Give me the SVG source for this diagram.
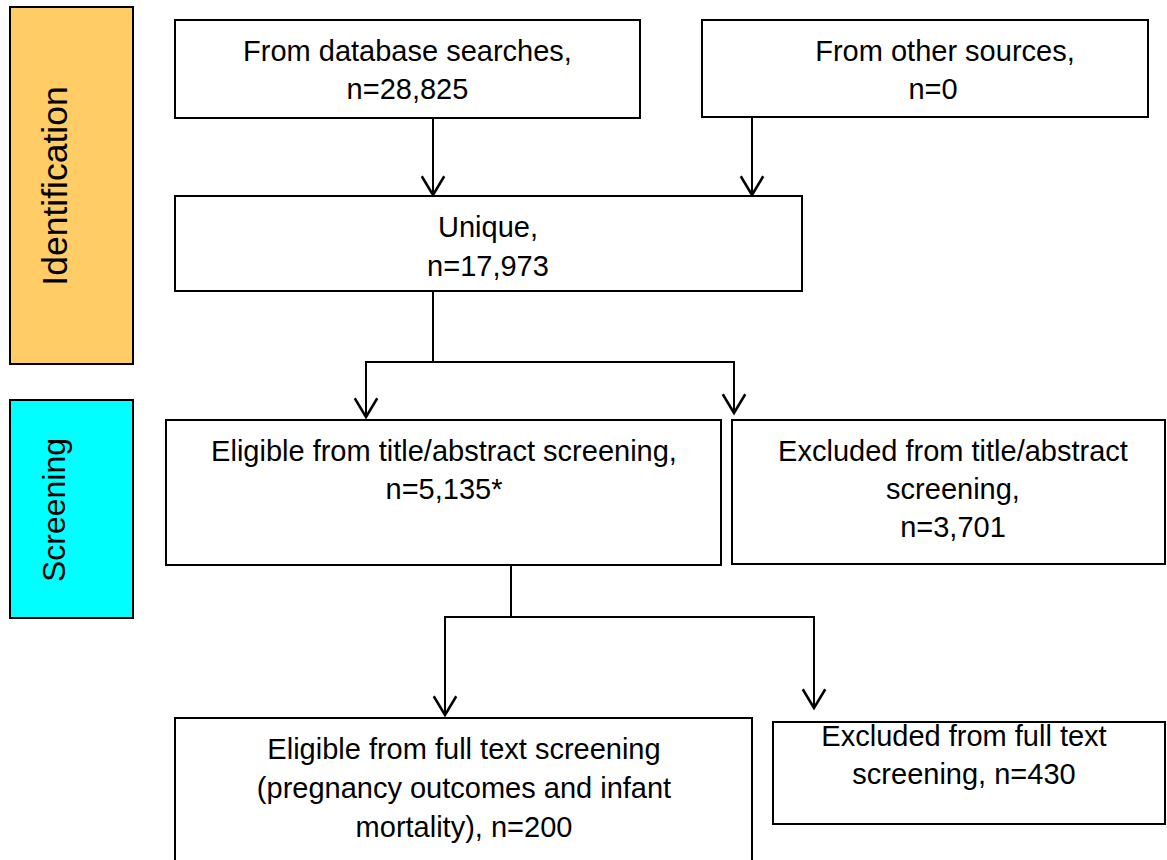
<svg xmlns="http://www.w3.org/2000/svg" width="1167" height="860" viewBox="0 0 1167 860">
<style>
.box{fill:#fff;stroke:#000;stroke-width:2}
.t{font-family:"Liberation Sans",Arial,sans-serif;font-size:29px;fill:#000;text-anchor:middle}
.side{font-family:"Liberation Sans",Arial,sans-serif;fill:#000;text-anchor:middle}
.c{fill:none;stroke:#000;stroke-width:2}
</style>
<defs>
<marker id="arr" markerUnits="userSpaceOnUse" markerWidth="30" markerHeight="30" refX="0" refY="0" orient="auto" viewBox="-16 -12 20 24" overflow="visible">
<path d="M-15,-9 L0,0 L-15,9" fill="none" stroke="#000" stroke-width="2"/>
</marker>
</defs>
<rect width="1167" height="860" fill="#fff"/>
<g id="identification">
<rect x="10" y="7" width="123" height="357" fill="#FFCC66" stroke="#000" stroke-width="2"/>
<text class="side" font-size="35.5" transform="translate(67,186) rotate(-90)">Identification</text>
</g>
<g id="screening">
<rect x="10" y="400" width="123" height="218" fill="#00FFFF" stroke="#000" stroke-width="2"/>
<text class="side" font-size="32" transform="translate(65,510) rotate(-90)">Screening</text>
</g>
<g id="database">
<rect class="box" x="175" y="20" width="465" height="98"/>
<text class="t" x="407.5" y="61">From database searches,</text>
<text class="t" x="407.5" y="99">n=28,825</text>
</g>
<g id="other">
<rect class="box" x="702" y="20" width="446" height="97"/>
<text class="t" x="945" y="61">From other sources,</text>
<text class="t" x="933" y="99">n=0</text>
</g>
<g id="unique">
<rect class="box" x="175" y="196" width="627" height="95"/>
<text class="t" x="488" y="237">Unique,</text>
<text class="t" x="488" y="276">n=17,973</text>
</g>
<g id="eligible-title">
<rect class="box" x="166" y="420" width="555" height="145"/>
<text class="t" x="444" y="461">Eligible from title/abstract screening,</text>
<text class="t" x="444" y="499">n=5,135*</text>
</g>
<g id="excluded-title">
<rect class="box" x="732" y="420" width="433" height="144"/>
<text class="t" x="953" y="461">Excluded from title/abstract</text>
<text class="t" x="953" y="499">screening,</text>
<text class="t" x="953" y="537">n=3,701</text>
</g>
<g id="eligible-full">
<rect class="box" x="175" y="718" width="577" height="150"/>
<text class="t" x="464" y="759">Eligible from full text screening</text>
<text class="t" x="464" y="798">(pregnancy outcomes and infant</text>
<text class="t" x="464" y="837">mortality), n=200</text>
</g>
<g id="excluded-full">
<rect class="box" x="773" y="722" width="392" height="102"/>
<text class="t" x="964" y="746">Excluded from full text</text>
<text class="t" x="964" y="784">screening, n=430</text>
</g>
<g id="connectors">
<path class="c" d="M433,118 V195" marker-end="url(#arr)"/>
<path class="c" d="M752,117 V195" marker-end="url(#arr)"/>
<path class="c" d="M433,291 V362"/>
<path class="c" d="M365,362 H735"/>
<path class="c" d="M366,362 V417" marker-end="url(#arr)"/>
<path class="c" d="M734,362 V413" marker-end="url(#arr)"/>
<path class="c" d="M511,565 V617"/>
<path class="c" d="M444,617 H815"/>
<path class="c" d="M445,617 V715" marker-end="url(#arr)"/>
<path class="c" d="M814,617 V708" marker-end="url(#arr)"/>
</g>
</svg>
